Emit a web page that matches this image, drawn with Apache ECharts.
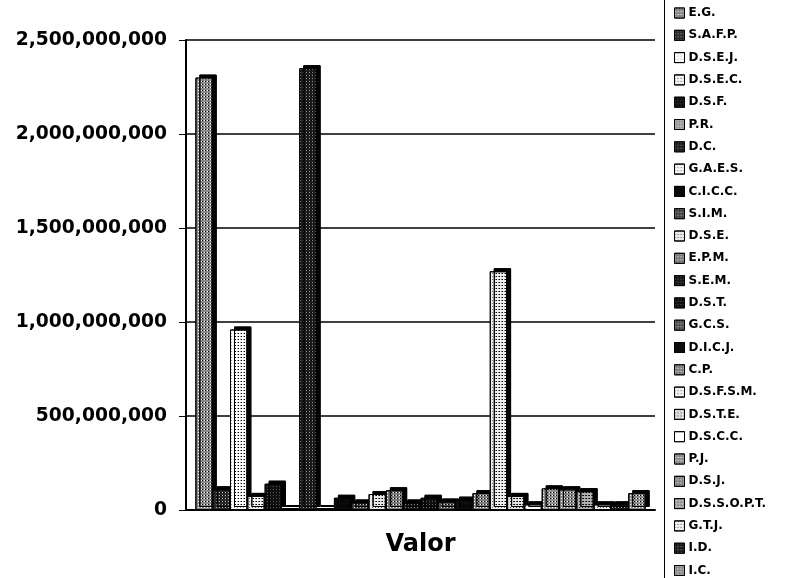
<!DOCTYPE html>
<html><head><meta charset="utf-8">
<script src="https://cdn.jsdelivr.net/npm/echarts@6/dist/echarts.min.js"></script>
<style>html,body{margin:0;padding:0;background:#fff}#c{width:786px;height:578px}</style>
</head><body><div id="c"></div>
<script>
const categories = ['Valor'];
const seriesNames = ['E.G.','S.A.F.P.','D.S.E.J.','D.S.E.C.','D.S.F.','P.R.','D.C.','G.A.E.S.','C.I.C.C.','S.I.M.','D.S.E.','E.P.M.','S.E.M.','D.S.T.','G.C.S.','D.I.C.J.','C.P.','D.S.F.S.M.','D.S.T.E.','D.S.C.C.','P.J.','D.S.J.','D.S.S.O.P.T.','G.T.J.','I.D.','I.C.'];
const seriesValues = [2300000000,110000000,960000000,75000000,140000000,10000000,2350000000,10000000,65000000,40000000,85000000,105000000,40000000,65000000,45000000,55000000,90000000,1270000000,75000000,30000000,115000000,110000000,100000000,30000000,30000000,90000000];
const yTicks = [0,500000000,1000000000,1500000000,2000000000,2500000000];

// fill colour and dot-pattern colour for each series (black & white printer style)
const fills = ['#8a8a8a','#2a2a2a','#ffffff','#f2f2f2','#111111','#9a9a9a','#1e1e1e','#f5f5f5','#0a0a0a','#444444','#e8e8e8','#7a7a7a','#151515','#101010','#505050','#0d0d0d','#808080','#f0f0f0','#e0e0e0','#ffffff','#909090','#858585','#b0b0b0','#f0f0f0','#1a1a1a','#8c8c8c'];
const dots = ['#ffffff','#bbbbbb','#999999','#666666','#555555','#ffffff','#999999','#777777','#0a0a0a','#cccccc','#555555','#ffffff','#888888','#666666','#dddddd','#0d0d0d','#ffffff','#777777','#333333','#ffffff','#ffffff','#ffffff','#333333','#555555','#aaaaaa','#ffffff'];

const series = seriesNames.map((n,i)=>({
  name:n, type:'bar', data:[seriesValues[i]], barGap:'0%', barCategoryGap:'4%',
  itemStyle:{color:fills[i], borderColor:'#000', borderWidth:1,
    shadowColor:'#000', shadowOffsetX:4, shadowOffsetY:-3, shadowBlur:0,
    decal:{symbol:'rect', symbolSize:1, dashArrayX:[1,2], dashArrayY:[1,2], color:dots[i], rotation:0}},
  emphasis:{disabled:true}
}));

const chart = echarts.init(document.getElementById('c'), null, {renderer:'canvas'});
chart.setOption({
  animation:false,
  backgroundColor:'#fff',
  grid:{left:186, right:131, top:40, bottom:68},
  xAxis:{type:'category', data:categories,
    axisLine:{show:true, lineStyle:{color:'#000', width:2}},
    axisTick:{show:false},
    axisLabel:{show:true, margin:23, color:'#000', fontFamily:'DejaVu Sans', fontWeight:'bold', fontSize:24}},
  yAxis:{type:'value', min:0, max:2500000000, interval:500000000,
    axisLine:{show:true, lineStyle:{color:'#000', width:2}},
    axisTick:{show:true, length:7, lineStyle:{color:'#000', width:1}},
    splitLine:{show:true, lineStyle:{color:'#000', width:1.5}},
    axisLabel:{margin:19, color:'#000', fontFamily:'DejaVu Sans', fontWeight:'bold', fontSize:18.7,
      formatter:v=>yTicks.includes(v)?v.toLocaleString('en-US'):''}},
  legend:{orient:'vertical', left:669, top:2, height:578, itemWidth:10, itemHeight:10, itemGap:10.3,
    icon:'rect', selectedMode:false,
    textStyle:{color:'#000', fontFamily:'DejaVu Sans', fontWeight:'bold', fontSize:12, lineHeight:12, padding:[0,0,0,-1]},
    itemStyle:{borderColor:'#000', borderWidth:1, shadowBlur:0, shadowOffsetX:0, shadowOffsetY:0}},
  graphic:[{type:'rect', shape:{x:664.5, y:-1, width:130, height:581}, style:{fill:'none', stroke:'#000', lineWidth:1}, silent:true}],
  series:series
});
</script>
</body></html>
